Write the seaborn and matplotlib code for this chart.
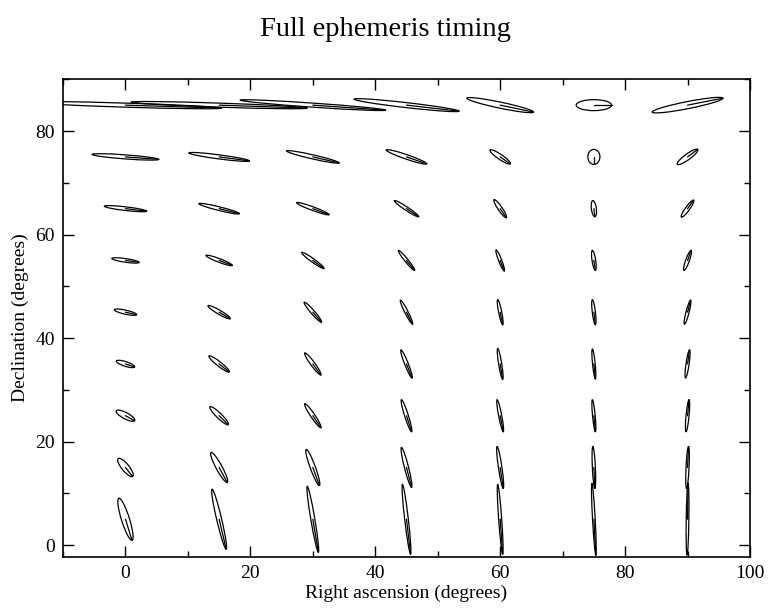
import numpy as np
import pandas as pd
import matplotlib
matplotlib.use("Agg")
import matplotlib.pyplot as plt
from matplotlib.patches import Ellipse
from matplotlib.ticker import MultipleLocator
import seaborn as sns

# Grid of sky positions (degrees)
ra_grid = [0, 15, 30, 45, 60, 75, 90]
dec_grid = [5, 15, 25, 35, 45, 55, 65, 75, 85]

# Offset of the major-axis tip from each ellipse centre, in degrees of RA
# (one row per declination, one column per right ascension)
tip_dra = [
    [1.05, 1.13, 0.89, 0.65, 0.40, 0.32, 0.08],
    [1.13, 1.29, 1.05, 0.81, 0.49, 0.16, 0.16],
    [1.46, 1.46, 1.29, 0.81, 0.49, 0.24, 0.24],
    [1.46, 1.62, 1.29, 0.89, 0.40, 0.24, 0.32],
    [1.78, 1.78, 1.38, 0.97, 0.40, 0.24, 0.49],
    [2.18, 2.10, 1.78, 1.29, 0.65, 0.24, 0.57],
    [3.40, 3.24, 2.59, 1.94, 0.97, 0.16, 0.97],
    [5.34, 4.85, 4.21, 3.24, 1.62, 0.00, 1.62],
    [15.4, 14.1, 11.65, 8.41, 5.34, 2.83, 5.66],
]
# Same tips, in degrees of declination
tip_ddec = [
    [-4.06, -5.80, -6.38, -6.76, -6.76, -6.96, 6.96],
    [-1.74, -2.90, -3.48, -3.86, -4.06, -4.06, 4.06],
    [-0.97, -1.74, -2.32, -3.09, -3.09, -3.09, 3.09],
    [-0.58, -1.55, -2.13, -2.71, -3.00, -2.90, 2.71],
    [-0.48, -1.26, -1.93, -2.32, -2.42, -2.42, 2.32],
    [-0.39, -0.97, -1.55, -1.93, -2.03, -1.93, 1.93],
    [-0.48, -0.97, -1.16, -1.55, -1.74, -1.55, 1.64],
    [-0.48, -0.77, -1.16, -1.35, -1.35, -1.45, 1.45],
    [-0.58, -0.58, -0.97, -1.16, -1.35, 0.00, 1.35],
]
# Semi-minor axis of each error ellipse (degrees)
semi_minor = [
    [0.65, 0.40, 0.32, 0.29, 0.24, 0.21, 0.21],
    [0.62, 0.50, 0.42, 0.33, 0.28, 0.24, 0.24],
    [0.58, 0.45, 0.35, 0.30, 0.25, 0.21, 0.24],
    [0.44, 0.40, 0.35, 0.29, 0.25, 0.21, 0.25],
    [0.39, 0.37, 0.32, 0.27, 0.25, 0.25, 0.25],
    [0.35, 0.34, 0.32, 0.28, 0.25, 0.29, 0.30],
    [0.35, 0.35, 0.34, 0.32, 0.35, 0.40, 0.35],
    [0.39, 0.39, 0.39, 0.42, 0.45, 0.97, 0.52],
    [0.39, 0.39, 0.39, 0.48, 0.58, 1.06, 0.68],
]

sns.set_style("ticks")
plt.rcParams["font.family"] = ["Liberation Serif", "DejaVu Serif"]
for key in ("text.color", "axes.labelcolor", "xtick.color", "ytick.color",
            "axes.edgecolor"):
    plt.rcParams[key] = "black"

fig = plt.figure(figsize=(7.71, 6.10), dpi=100)
ax = fig.add_axes([63 / 771, 53 / 610, 687 / 771, 478 / 610])

# Long-form table of glyphs
rows = []
for i, dec in enumerate(dec_grid):
    for j, ra in enumerate(ra_grid):
        rows.append(dict(ra=ra, dec=dec, dra=tip_dra[i][j],
                         ddec=tip_ddec[i][j], b=semi_minor[i][j]))
glyphs = pd.DataFrame(rows)
glyphs["a"] = np.hypot(glyphs["dra"], glyphs["ddec"])
glyphs["angle"] = np.degrees(np.arctan2(glyphs["ddec"], glyphs["dra"]))

# Centre-to-tip segments drawn with seaborn
seg = pd.concat([
    pd.DataFrame({"x": glyphs["ra"], "y": glyphs["dec"], "glyph": glyphs.index, "k": 0}),
    pd.DataFrame({"x": glyphs["ra"] + glyphs["dra"], "y": glyphs["dec"] + glyphs["ddec"],
                  "glyph": glyphs.index, "k": 1}),
]).sort_values(["glyph", "k"])
sns.lineplot(data=seg, x="x", y="y", units="glyph", estimator=None, sort=False,
             color="black", lw=0.9, legend=False, ax=ax)

# Error ellipses
for _, g in glyphs.iterrows():
    ax.add_patch(Ellipse((g["ra"], g["dec"]), 2 * g["a"], 2 * g["b"],
                         angle=g["angle"], fill=False, ec="black", lw=0.9))

ax.set_xlim(-10, 100)
ax.set_ylim(-2.3, 90.05)
ax.xaxis.set_major_locator(MultipleLocator(20))
ax.xaxis.set_minor_locator(MultipleLocator(10))
ax.yaxis.set_major_locator(MultipleLocator(20))
ax.yaxis.set_minor_locator(MultipleLocator(10))
ax.tick_params(which="both", direction="in", top=True, right=True,
               labelsize=14, width=1.0, color="black", labelcolor="black")
ax.tick_params(which="major", length=8, pad=6)
ax.tick_params(which="minor", length=4.5)
for s in ax.spines.values():
    s.set_linewidth(1.2)
    s.set_color("black")

ax.set_xlabel("Right ascension (degrees)", fontsize=14, labelpad=2)
ax.set_ylabel("Declination (degrees)", fontsize=14, labelpad=4)
fig.text(0.5, 1 - 30 / 610, "Full ephemeris timing", ha="center", va="center",
         fontsize=20.5)

fig.savefig("out.png", dpi=100)
